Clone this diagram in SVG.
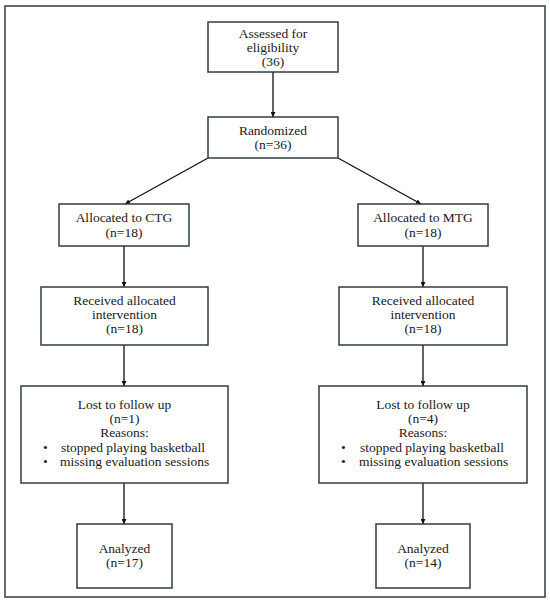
<svg xmlns="http://www.w3.org/2000/svg" width="550" height="604" viewBox="0 0 550 604">
<style>
.box{fill:#fff;stroke:#2f3d48;stroke-width:1.5}
.frame{fill:#fff;stroke:#3a4750;stroke-width:1.6}
.t{font-family:"Liberation Serif","DejaVu Serif",serif;font-size:13.5px;fill:#1a1a1a;text-anchor:middle}
.l{font-family:"Liberation Serif","DejaVu Serif",serif;font-size:13.5px;fill:#1a1a1a}
.c{stroke:#111;stroke-width:1.3;fill:none;marker-end:url(#ah)}
</style>
<defs>
<marker id="ah" viewBox="0 0 10 10" refX="10" refY="5" markerWidth="5" markerHeight="5" markerUnits="userSpaceOnUse" orient="auto">
<path d="M0,0L10,5L0,10z" fill="#111"/>
</marker>
</defs>
<rect class="frame" x="5" y="6" width="540" height="591"/>
<g id="connectors">
<line class="c" x1="273" y1="72" x2="273" y2="117"/>
<line class="c" x1="208" y1="158" x2="125" y2="204"/>
<line class="c" x1="338" y1="158" x2="421" y2="204"/>
<line class="c" x1="124" y1="246" x2="124" y2="287"/>
<line class="c" x1="423" y1="246" x2="423" y2="287"/>
<line class="c" x1="124" y1="345" x2="124" y2="386"/>
<line class="c" x1="423" y1="345" x2="423" y2="386"/>
<line class="c" x1="124" y1="483" x2="124" y2="524"/>
<line class="c" x1="423" y1="483" x2="423" y2="524"/>
</g>
<g id="assessed">
<rect class="box" x="208" y="22" width="130" height="50"/>
<text class="t" x="273" y="38">Assessed for</text>
<text class="t" x="273" y="52">eligibility</text>
<text class="t" x="273" y="66">(36)</text>
</g>
<g id="randomized">
<rect class="box" x="208" y="117" width="130" height="41"/>
<text class="t" x="273" y="135">Randomized</text>
<text class="t" x="273" y="149">(n=36)</text>
</g>
<g id="alloc-ctg">
<rect class="box" x="59" y="204" width="130" height="42"/>
<text class="t" x="124" y="222">Allocated to CTG</text>
<text class="t" x="124" y="237">(n=18)</text>
</g>
<g id="alloc-mtg">
<rect class="box" x="358" y="204" width="130" height="42"/>
<text class="t" x="423" y="222">Allocated to MTG</text>
<text class="t" x="423" y="237">(n=18)</text>
</g>
<g id="recv-ctg">
<rect class="box" x="41" y="287" width="167" height="58"/>
<text class="t" x="124.5" y="305">Received allocated</text>
<text class="t" x="124.5" y="319">intervention</text>
<text class="t" x="124.5" y="333">(n=18)</text>
</g>
<g id="recv-mtg">
<rect class="box" x="339" y="287" width="168" height="58"/>
<text class="t" x="423" y="305">Received allocated</text>
<text class="t" x="423" y="319">intervention</text>
<text class="t" x="423" y="333">(n=18)</text>
</g>
<g id="lost-ctg">
<rect class="box" x="21" y="386" width="207" height="97"/>
<text class="t" x="124.5" y="409">Lost to follow up</text>
<text class="t" x="124.5" y="423">(n=1)</text>
<text class="t" x="124.5" y="437">Reasons:</text>
<text class="l" x="43" y="452">•</text>
<text class="l" x="61" y="452">stopped playing basketball</text>
<text class="l" x="43" y="466">•</text>
<text class="l" x="60" y="466">missing evaluation sessions</text>
</g>
<g id="lost-mtg">
<rect class="box" x="319" y="386" width="208" height="97"/>
<text class="t" x="423" y="409">Lost to follow up</text>
<text class="t" x="423" y="423">(n=4)</text>
<text class="t" x="423" y="437">Reasons:</text>
<text class="l" x="341" y="452">•</text>
<text class="l" x="360" y="452">stopped playing basketball</text>
<text class="l" x="341" y="466">•</text>
<text class="l" x="359" y="466">missing evaluation sessions</text>
</g>
<g id="analyzed-ctg">
<rect class="box" x="77" y="524" width="95" height="64"/>
<text class="t" x="124.5" y="553">Analyzed</text>
<text class="t" x="124.5" y="567">(n=17)</text>
</g>
<g id="analyzed-mtg">
<rect class="box" x="376" y="524" width="94" height="64"/>
<text class="t" x="423" y="553">Analyzed</text>
<text class="t" x="423" y="567">(n=14)</text>
</g>
</svg>
